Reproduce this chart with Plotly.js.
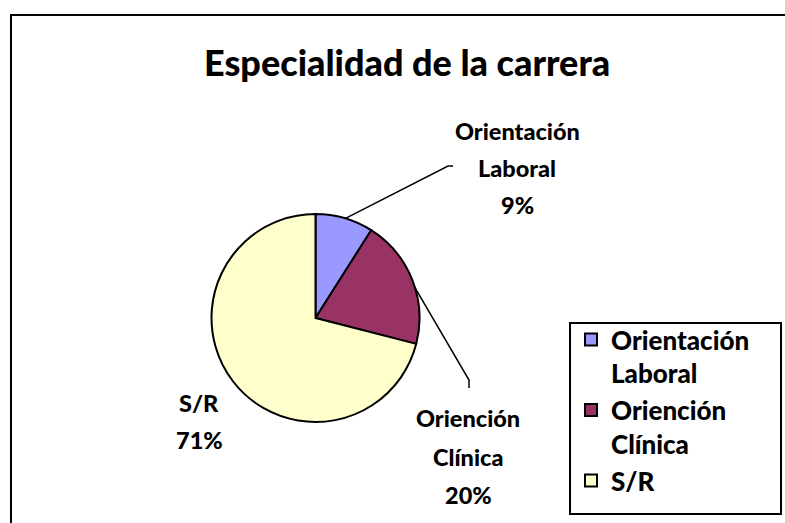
<!DOCTYPE html>
<html>
<head>
<meta charset="utf-8">
<script src="https://cdn.plot.ly/plotly-3.0.1.min.js"></script>
<style>html,body{margin:0;padding:0;background:#fff;}#chart{width:785px;height:523px;}</style>
</head>
<body>
<div id="chart"></div>
<script>
// ---- data ----
const categories = ["Orientación Laboral", "Oriención Clínica", "S/R"];
const values = [9, 20, 71];
const sliceColors = ["#9999FF", "#993366", "#FFFFCC"];
const chartTitle = "Especialidad de la carrera";

// ---- geometry ----
const W = 785, H = 523;
const cx = 315.5, cy = 318, r = 104;
const FONT = "Lato, 'Open Sans', sans-serif";
const px = x => x / W;
const py = y => 1 - y / H;

const total = values.reduce((a, b) => a + b, 0);
const pct = values.map(v => Math.round(v / total * 100) + "%");

// label placements (pixel centers of each text block)
const labelPos = [
  {x: 517, y: [131, 168, 205]},
  {x: 468, y: [418, 457, 495]},
  {x: 199, y: [403, 440]}
];

const annotations = [{
  text: chartTitle, x: px(407), y: py(62), xref: "paper", yref: "paper",
  xanchor: "center", yanchor: "middle", showarrow: false,
  font: {family: FONT, size: 36, color: "#000", weight: 900}
}];
categories.forEach((c, i) => {
  const lines = (c === "S/R" ? [c] : c.split(" ")).concat([pct[i]]);
  lines.forEach((t, k) => {
    annotations.push({
      text: t, x: px(labelPos[i].x), y: py(labelPos[i].y[k]),
      xref: "paper", yref: "paper", xanchor: "center", yanchor: "middle",
      showarrow: false, font: {family: FONT, size: 23.5, color: "#000", weight: 900}
    });
  });
});

// leader line start points computed from slice angles (clockwise from 12 o'clock)
let cum = 0;
const mids = values.map(v => { const m = (cum + v / 2) / total; cum += v; return m * 2 * Math.PI; });
const onArc = (a, off) => [cx + r * Math.sin(a + off), cy - r * Math.cos(a + off)];
const s1 = onArc(mids[0], 0.01), s2 = onArc(mids[1], 0.08);
const path = pts => "M" + pts.map(p => px(p[0]) + "," + py(p[1])).join(" L");

const shapes = [
  {type: "rect", xref: "paper", yref: "paper", x0: px(11), x1: 1.02, y0: -0.02, y1: py(15),
   line: {color: "#000", width: 2}, fillcolor: "rgba(0,0,0,0)"},
  {type: "rect", xref: "paper", yref: "paper", x0: px(570), x1: px(781), y0: py(514), y1: py(323),
   line: {color: "#000", width: 2}, fillcolor: "rgba(0,0,0,0)"},
  {type: "path", xref: "paper", yref: "paper", path: path([s1, [448, 166], [453, 166]]),
   line: {color: "#000", width: 1.5}},
  {type: "path", xref: "paper", yref: "paper", path: path([s2, [469, 380], [469, 388]]),
   line: {color: "#000", width: 1.5}}
];

const trace = {
  type: "pie",
  labels: categories.map(c => c === "S/R" ? c : c.replace(" ", "<br>")),
  values: values,
  sort: false,
  direction: "clockwise",
  rotation: 0,
  textinfo: "none",
  hoverinfo: "label+percent",
  marker: {colors: sliceColors, line: {color: "#000", width: 2}},
  domain: {x: [px(cx - r), px(cx + r)], y: [py(cy + r), py(cy - r)]}
};

const layout = {
  width: W, height: H,
  margin: {l: 0, r: 0, t: 0, b: 0},
  paper_bgcolor: "#fff",
  showlegend: true,
  legend: {
    x: px(571), y: py(316), xanchor: "left", yanchor: "top", valign: "top",
    font: {family: FONT, size: 26, color: "#000", weight: 900},
    bgcolor: "rgba(0,0,0,0)", borderwidth: 0, tracegroupgap: 0
  },
  annotations: annotations,
  shapes: shapes
};

Plotly.newPlot("chart", [trace], layout, {displayModeBar: false, staticPlot: true});
</script>
</body>
</html>
